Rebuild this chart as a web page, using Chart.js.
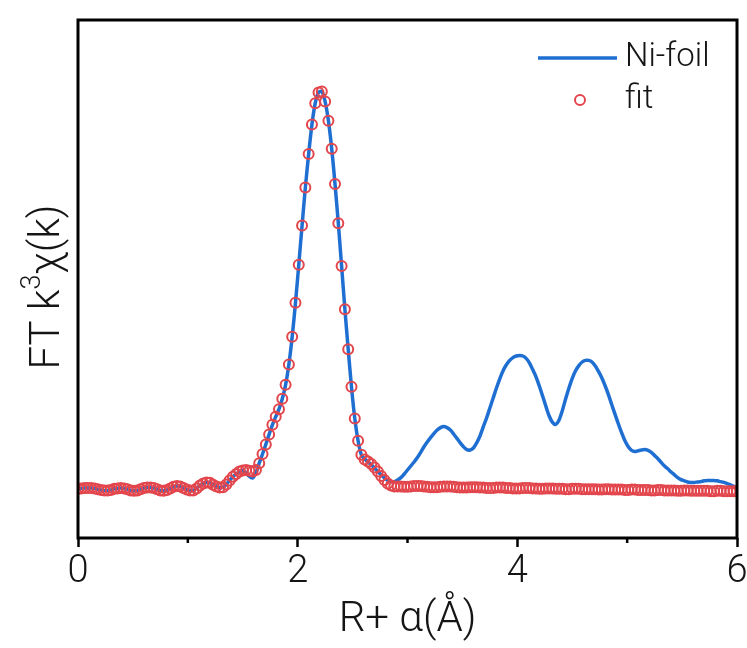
<!DOCTYPE html>
<html>
<head>
<meta charset="utf-8">
<script src="https://cdn.jsdelivr.net/npm/chart.js@4/dist/chart.umd.min.js"></script>
<style>
  body { margin: 0; background: #fff; }
  #wrap { width: 747px; height: 648px; }
</style>
</head>
<body>
<div id="wrap"><canvas id="myChart"></canvas></div>
<script>
// R grid (Å), step 0.03 from 0 to 6
const rStep = 0.03;
const xTicks = [0, 2, 4, 6];
const minorTicks = [1, 3, 5];

// measured FT magnitude (arb. units)
const niFoil = [
    0.03, 0.04, 0.05, 0.05, 0.05, 0.04, 0.02, 0.00, -0.01, -0.01,
    0.00, 0.03, 0.04, 0.05, 0.04, 0.02, -0.01, -0.02, -0.01, 0.02,
    0.05, 0.06, 0.06, 0.05, 0.02, -0.01, -0.02, 0.00, 0.04, 0.08,
    0.10, 0.09, 0.05, 0.01, -0.01, -0.01, 0.04, 0.11, 0.16, 0.19,
    0.18, 0.13, 0.09, 0.06, 0.07, 0.14, 0.24, 0.33, 0.40, 0.46,
    0.48, 0.43, 0.34, 0.30, 0.43, 0.67, 0.90, 1.14, 1.39, 1.63,
    1.83, 2.02, 2.28, 2.63, 3.14, 3.83, 4.68, 5.63, 6.61, 7.56,
    8.40, 9.14, 9.67, 9.94, 9.96, 9.71, 9.23, 8.53, 7.65, 6.67,
    5.60, 4.52, 3.52, 2.58, 1.79, 1.23, 0.88, 0.78, 0.70, 0.63,
    0.55, 0.46, 0.38, 0.30, 0.24, 0.21, 0.21, 0.25, 0.31, 0.40,
    0.50, 0.60, 0.70, 0.81, 0.94, 1.08, 1.20, 1.31, 1.41, 1.50,
    1.56, 1.59, 1.56, 1.50, 1.40, 1.29, 1.18, 1.08, 1.01, 1.00,
    1.05, 1.18, 1.35, 1.58, 1.80, 2.05, 2.30, 2.55, 2.78, 2.98,
    3.13, 3.24, 3.31, 3.35, 3.36, 3.35, 3.29, 3.18, 3.01, 2.83,
    2.60, 2.35, 2.09, 1.85, 1.69, 1.64, 1.75, 1.99, 2.28, 2.55,
    2.79, 2.98, 3.11, 3.20, 3.24, 3.24, 3.20, 3.10, 2.96, 2.80,
    2.60, 2.38, 2.13, 1.89, 1.65, 1.43, 1.23, 1.08, 0.99, 0.96,
    0.98, 1.00, 1.01, 0.99, 0.94, 0.86, 0.78, 0.69, 0.60, 0.53,
    0.45, 0.38, 0.31, 0.26, 0.23, 0.20, 0.19, 0.19, 0.20, 0.21,
    0.23, 0.24, 0.24, 0.24, 0.23, 0.21, 0.19, 0.16, 0.13, 0.09,
    0.05
];

// fitted curve
const fit = [
    0.03, 0.04, 0.05, 0.05, 0.05, 0.04, 0.02, 0.00, -0.01, -0.01,
    0.00, 0.03, 0.04, 0.05, 0.04, 0.02, -0.01, -0.02, -0.01, 0.02,
    0.05, 0.06, 0.06, 0.05, 0.02, -0.01, -0.02, 0.00, 0.04, 0.08,
    0.10, 0.09, 0.05, 0.01, -0.01, -0.01, 0.04, 0.11, 0.16, 0.19,
    0.18, 0.13, 0.09, 0.06, 0.07, 0.14, 0.24, 0.33, 0.40, 0.46,
    0.49, 0.50, 0.48, 0.46, 0.50, 0.67, 0.90, 1.14, 1.39, 1.63,
    1.83, 2.02, 2.28, 2.63, 3.14, 3.83, 4.68, 5.63, 6.61, 7.56,
    8.40, 9.14, 9.67, 9.94, 9.96, 9.71, 9.23, 8.53, 7.65, 6.67,
    5.60, 4.52, 3.52, 2.58, 1.79, 1.23, 0.88, 0.76, 0.71, 0.65,
    0.56, 0.46, 0.35, 0.25, 0.16, 0.11, 0.09, 0.09, 0.09, 0.08,
    0.08, 0.09, 0.10, 0.10, 0.10, 0.09, 0.08, 0.07, 0.07, 0.07,
    0.08, 0.09, 0.09, 0.09, 0.08, 0.07, 0.06, 0.06, 0.06, 0.07,
    0.07, 0.07, 0.06, 0.06, 0.05, 0.05, 0.05, 0.06, 0.06, 0.06,
    0.05, 0.05, 0.04, 0.04, 0.04, 0.05, 0.05, 0.05, 0.04, 0.04,
    0.03, 0.03, 0.04, 0.04, 0.04, 0.03, 0.03, 0.03, 0.02, 0.02,
    0.03, 0.03, 0.03, 0.02, 0.02, 0.02, 0.02, 0.02, 0.01, 0.01,
    0.02, 0.02, 0.01, 0.01, 0.01, 0.01, 0.00, 0.00, 0.01, 0.01,
    0.00, 0.00, 0.00, 0.00, -0.01, -0.01, 0.00, 0.00, -0.01, -0.01,
    -0.01, -0.01, -0.02, -0.02, -0.01, -0.01, -0.02, -0.02, -0.02, -0.02,
    -0.02, -0.02, -0.03, -0.03, -0.02, -0.02, -0.03, -0.03, -0.03, -0.03,
    -0.03
];

const BLUE = '#1f6fd2';
const RED = '#e2464c';
const FONT = "Roboto, 'Liberation Sans', Arial, sans-serif";
const TEXT = '#151515';

const toPoints = (arr) => arr.map((v, i) => ({ x: +(i * rStep).toFixed(2), y: v }));

// frame, minor ticks, y title with superscript, legend
const decorations = {
    id: 'decorations',
    afterDatasetsDraw(chart) {
        const ctx = chart.ctx;
        const a = chart.chartArea;
        const xs = chart.scales.x;
        ctx.save();
        ctx.strokeStyle = '#000';
        ctx.lineWidth = 3;
        ctx.strokeRect(a.left, a.top, a.right - a.left, a.bottom - a.top);

        ctx.lineWidth = 2.5;
        for (let m of minorTicks) {
            let px = xs.getPixelForValue(m);
            ctx.beginPath();
            ctx.moveTo(px, a.bottom);
            ctx.lineTo(px, a.bottom + 5);
            ctx.stroke();
        }

        // y axis title: FT k^3 χ(k)
        const big = '300 42px ' + FONT;
        const small = '300 27px ' + FONT;
        const parts = [['FT k', big, 0], ['3', small, -15], ['χ(k)', big, 0]];
        let total = 0;
        for (let p of parts) { ctx.font = p[1]; total += ctx.measureText(p[0]).width; }
        ctx.translate(36, (a.top + a.bottom) / 2 + 8);
        ctx.rotate(-Math.PI / 2);
        ctx.fillStyle = TEXT;
        ctx.textBaseline = 'middle';
        let x = -total / 2;
        for (let p of parts) {
            ctx.font = p[1];
            ctx.fillText(p[0], x, 12 + p[2]);
            x += ctx.measureText(p[0]).width;
        }
        ctx.setTransform(1, 0, 0, 1, 0, 0);

        // legend
        ctx.strokeStyle = BLUE;
        ctx.lineWidth = 3.5;
        ctx.beginPath();
        ctx.moveTo(538, 58);
        ctx.lineTo(617, 58);
        ctx.stroke();
        ctx.strokeStyle = RED;
        ctx.lineWidth = 2;
        ctx.beginPath();
        ctx.arc(580, 100, 5, 0, Math.PI * 2);
        ctx.stroke();
        ctx.fillStyle = TEXT;
        ctx.font = '300 33px ' + FONT;
        ctx.textBaseline = 'middle';
        ctx.fillText('Ni-foil', 625, 58);
        ctx.fillText('fit', 625, 100);
        ctx.restore();
    }
};

const config = {
    type: 'line',
    data: {
        datasets: [{
            label: 'fit',
            data: toPoints(fit),
            showLine: false,
            pointRadius: 5,
            pointBorderWidth: 2,
            pointBorderColor: RED,
            pointBackgroundColor: 'rgba(0,0,0,0)',
            order: 1
        }, {
            label: 'Ni-foil',
            data: toPoints(niFoil),
            borderColor: BLUE,
            borderWidth: 3.5,
            pointRadius: 0,
            tension: 0.3,
            order: 2
        }]
    },
    plugins: [decorations],
    options: {
        responsive: true,
        maintainAspectRatio: false,
        animation: false,
        layout: { padding: { top: 20, right: 10, left: 0, bottom: 0 } },
        plugins: {
            legend: { display: false },
            tooltip: { enabled: false }
        },
        scales: {
            x: {
                type: 'linear',
                min: 0,
                max: 6,
                afterBuildTicks: (s) => { s.ticks = xTicks.map(v => ({ value: v })); },
                afterFit: (s) => { s.height = 110; s.paddingLeft = 0; s.paddingRight = 0; },
                ticks: {
                    color: TEXT,
                    font: { family: FONT, size: 38, weight: 300 },
                    padding: 3,
                    maxRotation: 0
                },
                grid: {
                    drawOnChartArea: false,
                    tickLength: 9,
                    tickWidth: 2.5,
                    tickColor: '#000'
                },
                border: { display: false },
                title: {
                    display: true,
                    text: 'R+ α(Å)',
                    color: TEXT,
                    font: { family: FONT, size: 42, weight: 300 },
                    padding: { top: 0, bottom: 2 }
                }
            },
            y: {
                min: -1.2,
                max: 11.75,
                afterFit: (s) => { s.width = 78; },
                ticks: { display: false },
                grid: { display: false },
                border: { display: false }
            }
        }
    }
};

var myChart = new Chart(document.getElementById('myChart'), config);
</script>
</body>
</html>
